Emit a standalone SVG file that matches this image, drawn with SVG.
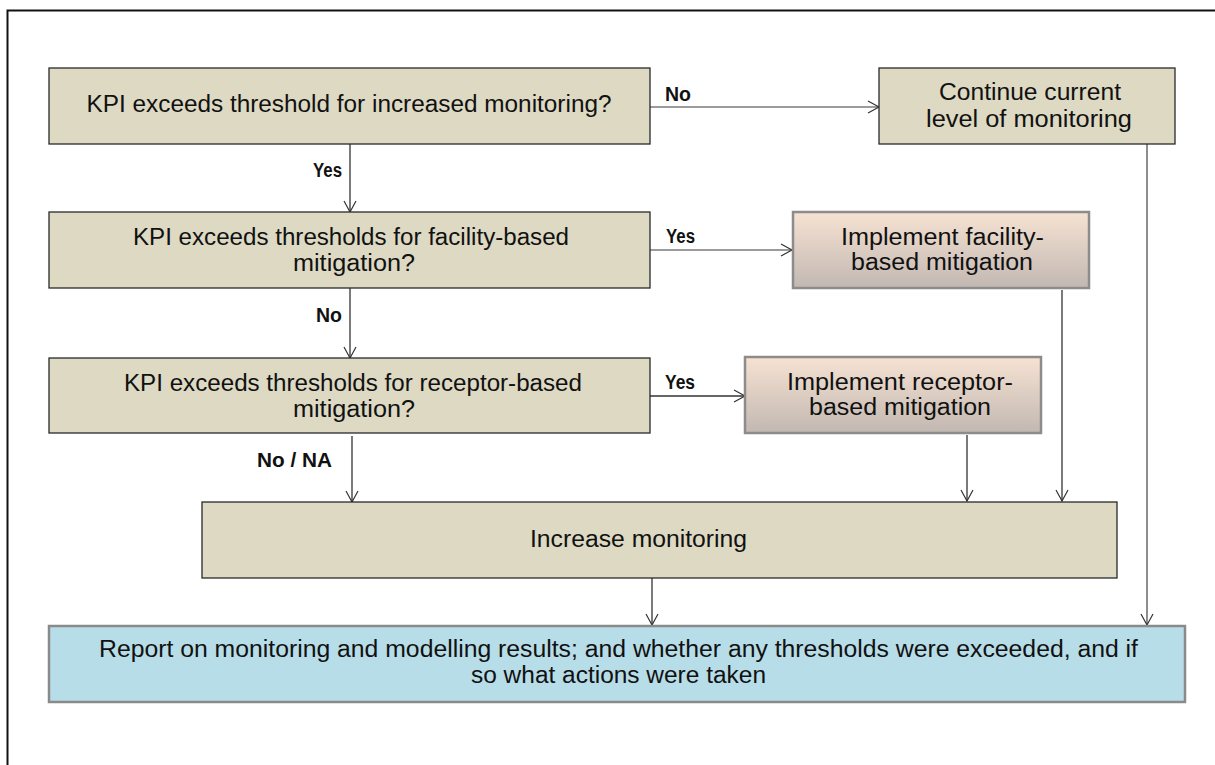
<svg xmlns="http://www.w3.org/2000/svg" width="1215" height="765" viewBox="0 0 1215 765">
<defs>
<style>
.t{font-family:"Liberation Sans",Arial,sans-serif;font-size:23.5px;fill:#111;font-variant-ligatures:none;}
.lbl{font-family:"Liberation Sans",Arial,sans-serif;font-size:20px;font-weight:bold;fill:#111;}
.tan{fill:#ddd9c3;stroke:#2a2a2a;stroke-width:1.3;}
.peach{fill:url(#pg);stroke:#8c8c8c;stroke-width:2.5;}
.blue{fill:#b7dde8;stroke:#8a8a8a;stroke-width:2.5;}
.conn{fill:none;stroke:#333;stroke-width:1.3;marker-end:url(#ah);}
.conng{fill:none;stroke:#7a7a7a;stroke-width:1.7;marker-end:url(#ah);}
</style>
<linearGradient id="pg" x1="0" y1="0" x2="0" y2="1">
<stop offset="0" stop-color="#f6e2d2"/>
<stop offset="1" stop-color="#c2b8b2"/>
</linearGradient>
<marker id="ah" markerUnits="userSpaceOnUse" markerWidth="14" markerHeight="14" viewBox="-12 -7 14 14" refX="0" refY="0" orient="auto" overflow="visible">
<path d="M-11,-6 L0,0 L-11,6" fill="none" stroke="#333" stroke-width="1.2"/>
</marker>
</defs>
<rect x="7.5" y="10.5" width="1260" height="820" fill="#fff" stroke="#111" stroke-width="2"/>

<g id="connectors">
<line class="conng" x1="650" y1="107" x2="879" y2="107"/>
<line class="conn" x1="350" y1="144" x2="350" y2="212"/>
<line class="conng" x1="650" y1="250" x2="792" y2="250"/>
<line class="conn" x1="350" y1="288" x2="350" y2="358"/>
<line class="conn" x1="650" y1="396" x2="745" y2="396"/>
<line class="conn" x1="352" y1="436" x2="352" y2="502"/>
<line class="conn" x1="967" y1="435" x2="967" y2="501"/>
<line class="conn" x1="1062" y1="290" x2="1062" y2="501"/>
<line class="conn" x1="652" y1="578" x2="652" y2="625"/>
<line class="conng" x1="1147" y1="144" x2="1147" y2="625"/>
<text class="lbl" x="313" y="177" textLength="29" lengthAdjust="spacingAndGlyphs">Yes</text>
<text class="lbl" x="665" y="101" textLength="26" lengthAdjust="spacingAndGlyphs">No</text>
<text class="lbl" x="666" y="243" textLength="29" lengthAdjust="spacingAndGlyphs">Yes</text>
<text class="lbl" x="316" y="322" textLength="26" lengthAdjust="spacingAndGlyphs">No</text>
<text class="lbl" x="665" y="389" textLength="30" lengthAdjust="spacingAndGlyphs">Yes</text>
<text class="lbl" x="257" y="467" textLength="75" lengthAdjust="spacingAndGlyphs">No / NA</text>
</g>

<g id="q1">
<rect class="tan" x="49" y="68" width="601" height="76"/>
<text class="t" x="349" y="112" text-anchor="middle" textLength="525" lengthAdjust="spacingAndGlyphs">KPI exceeds threshold for increased monitoring?</text>
</g>

<g id="continue">
<rect class="tan" x="879" y="68" width="296" height="76"/>
<text class="t" x="1030" y="100" text-anchor="middle" textLength="182" lengthAdjust="spacingAndGlyphs">Continue current</text>
<text class="t" x="1029" y="127" text-anchor="middle" textLength="206" lengthAdjust="spacingAndGlyphs">level of monitoring</text>
</g>

<g id="q2">
<rect class="tan" x="49" y="212" width="601" height="76"/>
<text class="t" x="351" y="245" text-anchor="middle" textLength="436" lengthAdjust="spacingAndGlyphs">KPI exceeds thresholds for facility-based</text>
<text class="t" x="354" y="271" text-anchor="middle" textLength="122" lengthAdjust="spacingAndGlyphs">mitigation?</text>
</g>

<g id="facility">
<rect class="peach" x="793" y="212" width="296" height="76"/>
<text class="t" x="942.5" y="245" text-anchor="middle" textLength="203" lengthAdjust="spacingAndGlyphs">Implement facility-</text>
<text class="t" x="942" y="270" text-anchor="middle" textLength="182" lengthAdjust="spacingAndGlyphs">based mitigation</text>
</g>

<g id="q3">
<rect class="tan" x="49" y="358" width="601" height="75"/>
<text class="t" x="353" y="391" text-anchor="middle" textLength="458" lengthAdjust="spacingAndGlyphs">KPI exceeds thresholds for receptor-based</text>
<text class="t" x="354" y="417" text-anchor="middle" textLength="122" lengthAdjust="spacingAndGlyphs">mitigation?</text>
</g>

<g id="receptor">
<rect class="peach" x="745" y="357" width="296" height="76"/>
<text class="t" x="900" y="390" text-anchor="middle" textLength="226" lengthAdjust="spacingAndGlyphs">Implement receptor-</text>
<text class="t" x="900" y="415" text-anchor="middle" textLength="182" lengthAdjust="spacingAndGlyphs">based mitigation</text>
</g>

<g id="increase">
<rect class="tan" x="202" y="502" width="915" height="76"/>
<text class="t" x="638.5" y="547" text-anchor="middle" textLength="217" lengthAdjust="spacingAndGlyphs">Increase monitoring</text>
</g>

<g id="report">
<rect class="blue" x="49" y="626" width="1136" height="76"/>
<text class="t" x="618.5" y="657" text-anchor="middle" textLength="1039" lengthAdjust="spacingAndGlyphs">Report on monitoring and modelling results; and whether any thresholds were exceeded, and if</text>
<text class="t" x="618.5" y="683" text-anchor="middle" textLength="295" lengthAdjust="spacingAndGlyphs">so what actions were taken</text>
</g>
</svg>
